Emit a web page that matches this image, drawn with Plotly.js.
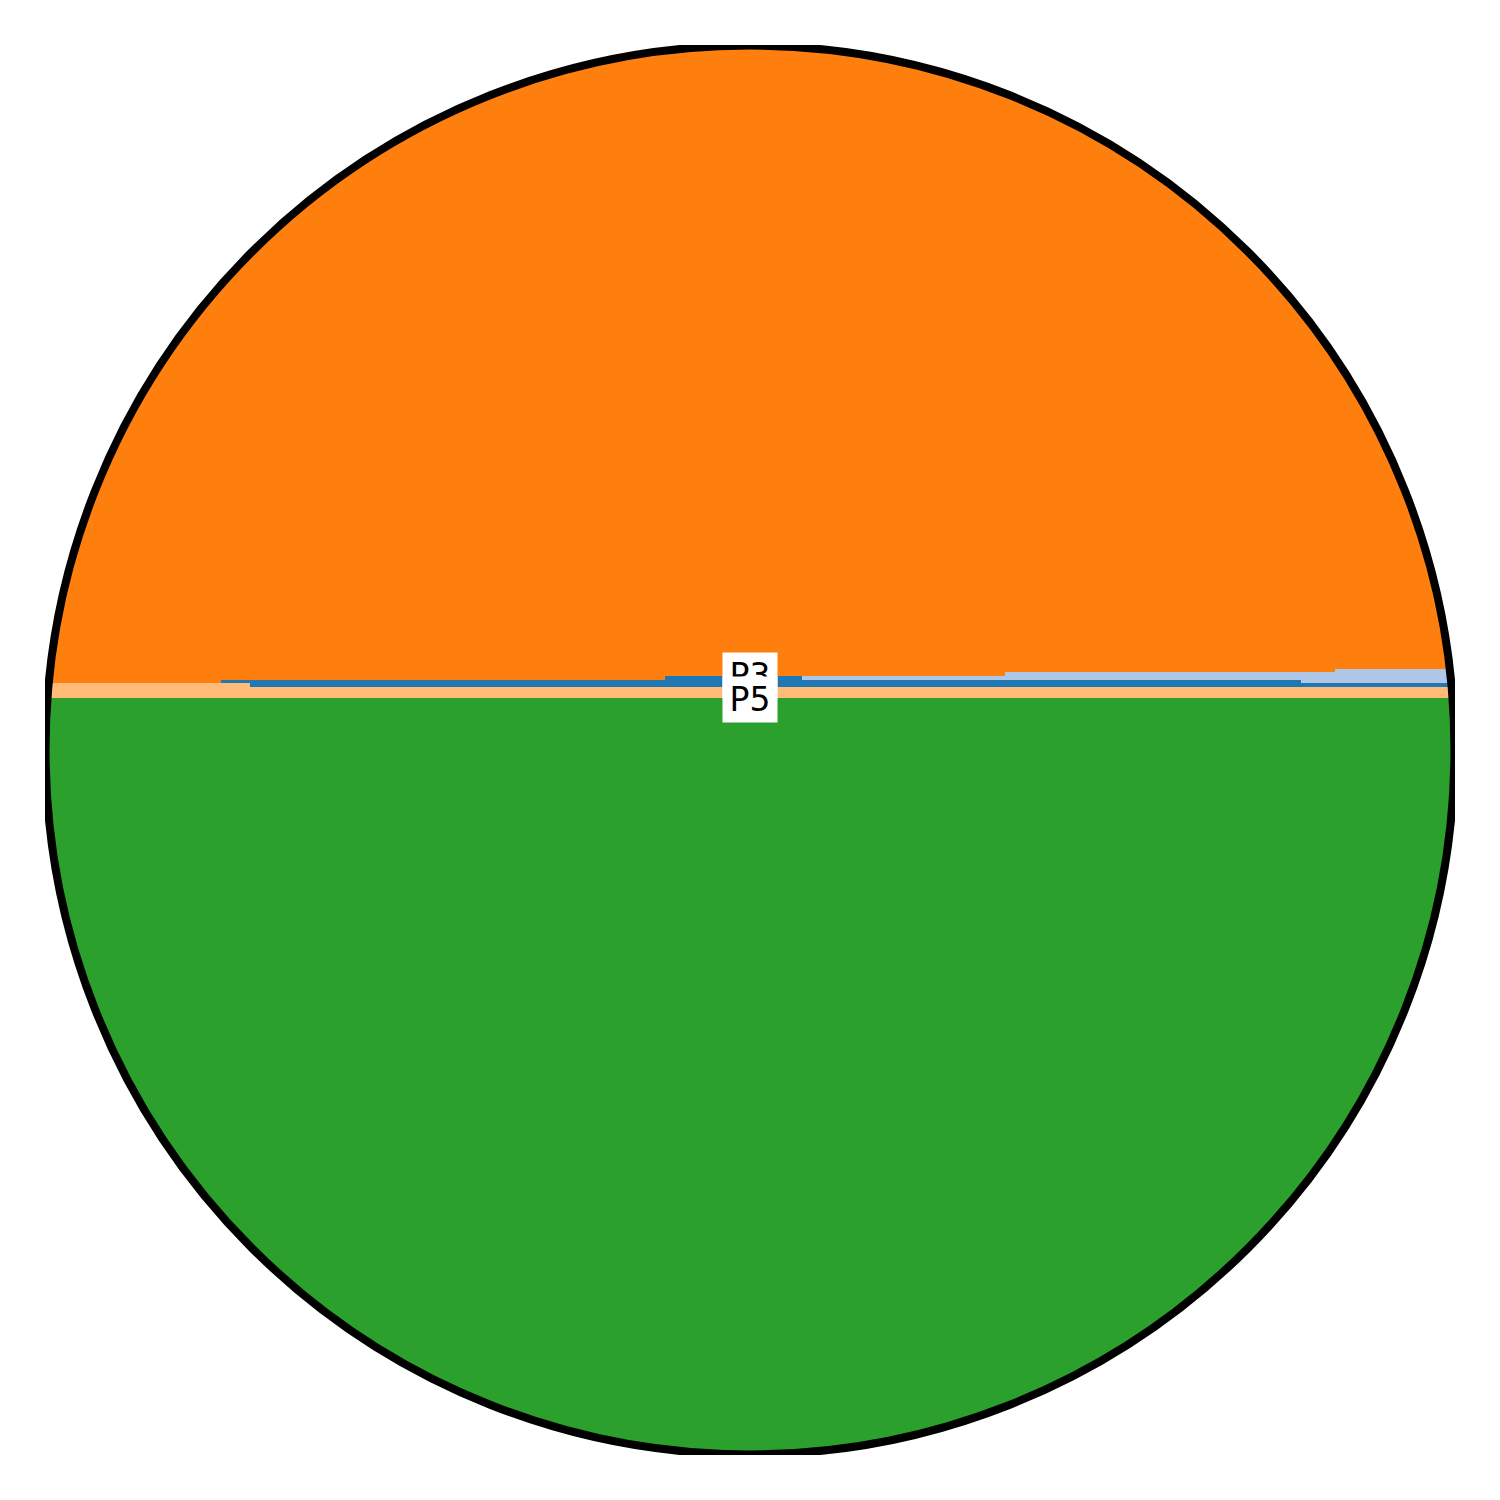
<!DOCTYPE html>
<html>
<head>
<meta charset="utf-8">
<script src="https://cdn.plot.ly/plotly-3.0.1.min.js"></script>
<style>html,body{margin:0;padding:0;background:#fff;}#chart{width:1500px;height:1500px;}</style>
</head>
<body>
<div id="chart"></div>
<script>
// Segment start positions (percent of width), last value closes the final step
const xEdges = [0, 12.48, 14.54, 43.97, 53.69, 68.09, 89.08, 91.49, 100];
// Series shares (percent) per segment
const seriesNames = ['P5', 'P4', 'P1', 'P2', 'P3'];   // stacking order, bottom to top
const P5 = [53.69, 53.69, 53.69, 53.69, 53.69, 53.69, 53.69, 53.69];
const P4 = [1.06, 1.06, 0.78, 0.78, 0.78, 0.78, 0.78, 0.78];
const P1 = [0.00, 0.21, 0.50, 0.78, 0.50, 0.50, 0.28, 0.28];
const P2 = [0.00, 0.00, 0.00, 0.00, 0.28, 0.57, 0.78, 0.99];
const P3 = [45.25, 45.04, 45.04, 44.75, 44.75, 44.47, 44.47, 44.26];
const colors = {P1:'#1f77b4', P2:'#aec7e8', P3:'#ff7f0e', P4:'#ffbb78', P5:'#2ca02c'};
const seriesVals = {P1, P2, P3, P4, P5};
const labelNames = ['P3', 'P5'];

const traces = [];
let cum = new Array(P5.length).fill(0);
seriesNames.forEach((name, i) => {
  cum = cum.map((c, j) => c + seriesVals[name][j]);
  const y = cum.concat([cum[cum.length - 1]]);
  traces.push({
    type: 'scatter', mode: 'lines', x: xEdges, y: y, name: name,
    line: {shape: 'hv', width: 0, color: colors[name]},
    fill: i === 0 ? 'tozeroy' : 'tonexty', fillcolor: colors[name],
    hoverinfo: 'skip', showlegend: false
  });
});

// label positions: lower edge of P3 band and upper edge of P5 band at centre
const mid = 3;
const p5top = P5[mid];
const p3bottom = 100 - P3[mid];

const cx = 50, cy = 50, r = 49.96, rm = 49.9, k = 0.5523 * rm;
const circ = `M ${cx+rm},${cy} C ${cx+rm},${cy-k} ${cx+k},${cy-rm} ${cx},${cy-rm} C ${cx-k},${cy-rm} ${cx-rm},${cy-k} ${cx-rm},${cy} C ${cx-rm},${cy+k} ${cx-k},${cy+rm} ${cx},${cy+rm} C ${cx+k},${cy+rm} ${cx+rm},${cy+k} ${cx+rm},${cy} Z`;
const maskPath = `M -10,-10 L -10,110 L 110,110 L 110,-10 Z ` + circ;

const labelFont = {family: 'DejaVu Sans', size: 33, color: '#000'};
const layout = {
  width: 1500, height: 1500,
  margin: {l: 45, r: 45, t: 45, b: 45, pad: 0},
  paper_bgcolor: '#fff', plot_bgcolor: '#fff',
  xaxis: {range: [0, 100], visible: false, fixedrange: true},
  yaxis: {range: [0, 100], visible: false, fixedrange: true},
  showlegend: false,
  shapes: [
    {type: 'path', xref: 'x', yref: 'y', path: maskPath, fillrule: 'evenodd',
     fillcolor: '#fff', line: {width: 0}, layer: 'above'},
    {type: 'circle', xref: 'x', yref: 'y', x0: cx - r, x1: cx + r, y0: cy - r, y1: cy + r,
     line: {color: '#000', width: 8}, fillcolor: 'rgba(0,0,0,0)', layer: 'above'}
  ],
  annotations: [
    {x: 50, y: p3bottom, xref: 'x', yref: 'y', text: labelNames[0], showarrow: false,
     font: labelFont, bgcolor: '#fff', borderpad: 2, width: 50, height: 41},
    {x: 50, y: p5top - 0.1, xref: 'x', yref: 'y', text: labelNames[1], showarrow: false,
     font: labelFont, bgcolor: '#fff', borderpad: 2, width: 50, height: 41}
  ]
};
Plotly.newPlot('chart', traces, layout, {staticPlot: true});
</script>
</body>
</html>
